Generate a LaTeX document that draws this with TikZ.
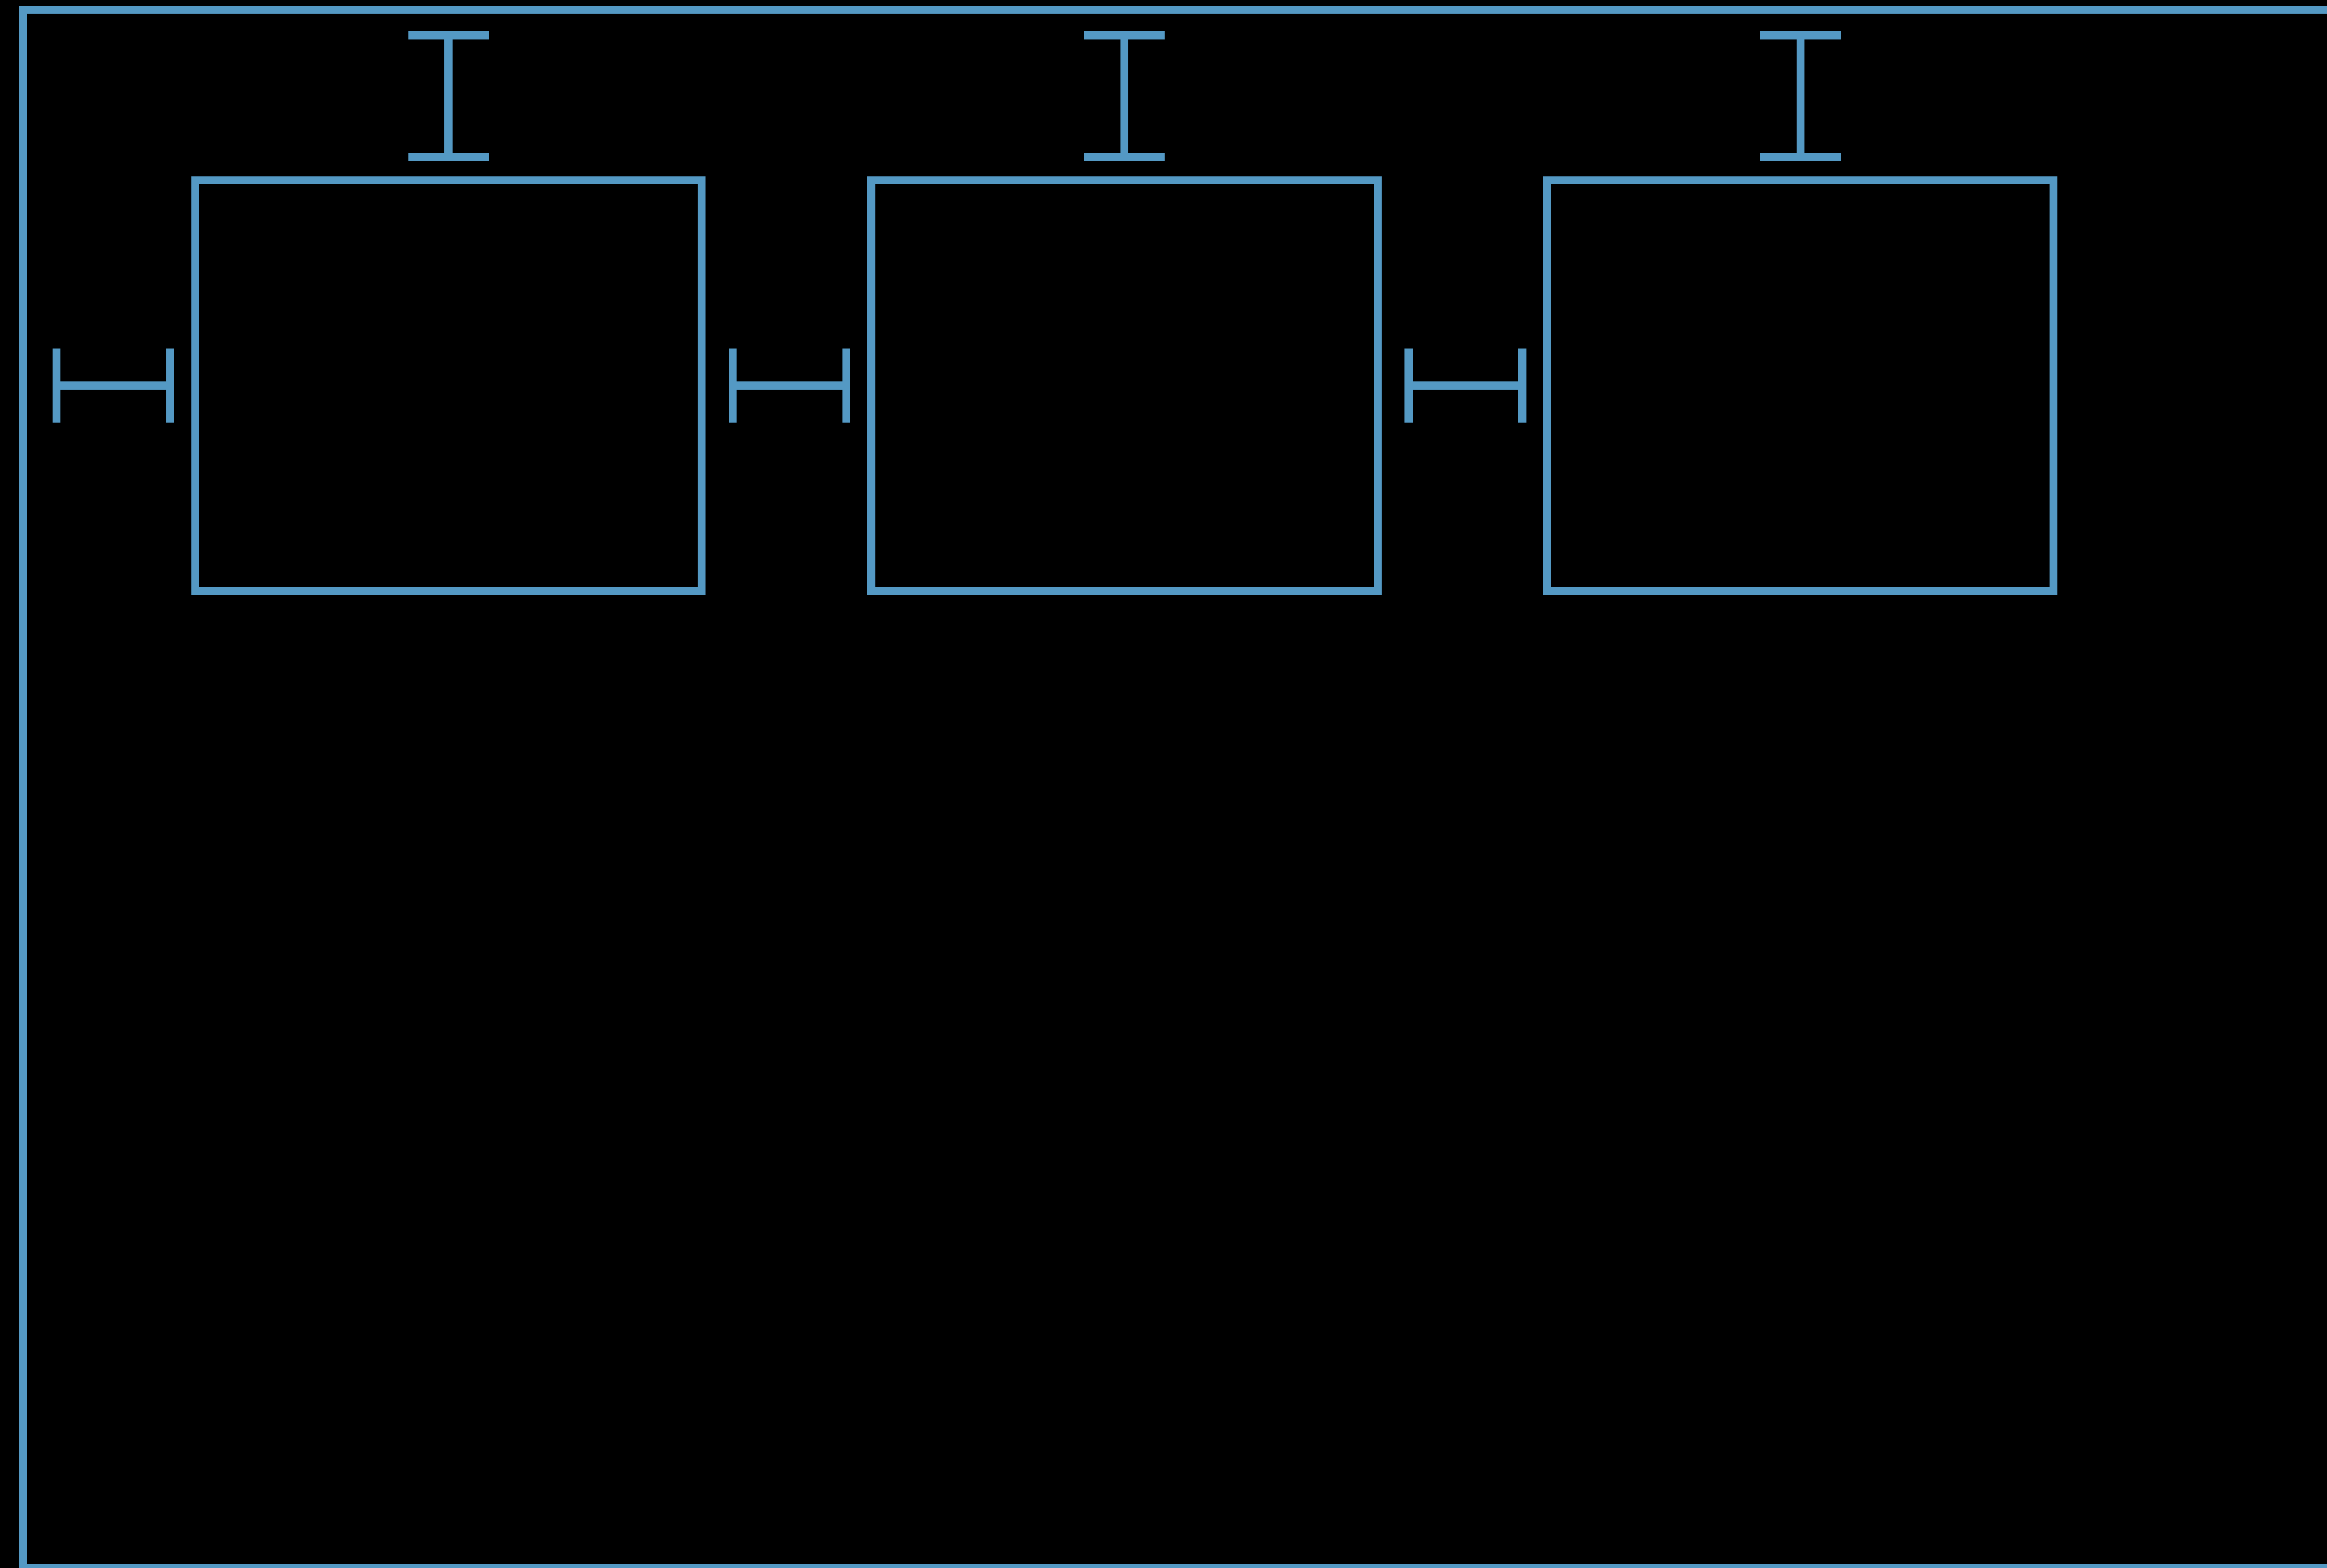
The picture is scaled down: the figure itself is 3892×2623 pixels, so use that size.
\documentclass[tikz,border=0pt]{standalone}
\usetikzlibrary{calc}
\definecolor{frameblue}{RGB}{84,153,196}
\begin{document}
\begin{tikzpicture}[x=0.01cm,y=0.01cm,
  blueline/.style={draw=frameblue,line width=0.133cm},
  panel/.style={blueline,rectangle,inner sep=0pt,outer sep=0pt,minimum width=8.466cm,minimum height=6.867cm}]
\fill[black] (0,0) rectangle (3892,-2623);
\useasboundingbox (0,0) rectangle (3892,-2623);
\begin{scope}
  \clip (0,0) rectangle (3892,-2623);
  \draw[blueline] (38.5,-16.5) rectangle (3930,-2622.7);
\end{scope}
\node[panel] (b1) at (750,-645.1) {};
\node[panel] (b2) at (1880.6,-645.1) {};
\node[panel] (b3) at (3011.2,-645.1) {};
\foreach \b in {b1,b2,b3}{
  % vertical marker above the panel
  \coordinate (\b-ib) at ($(\b.north)+(0,39)$);
  \coordinate (\b-it) at ($(\b.north)+(0,242.7)$);
  \draw[blueline] ($(\b-ib)+(-67.5,0)$) -- ($(\b-ib)+(67.5,0)$);
  \draw[blueline] ($(\b-it)+(-67.5,0)$) -- ($(\b-it)+(67.5,0)$);
  \draw[blueline] (\b-ib) -- (\b-it);
  % horizontal marker left of the panel
  \coordinate (\b-hl) at ($(\b.west)+(-231.7,0)$);
  \coordinate (\b-hr) at ($(\b.west)+(-41.7,0)$);
  \draw[blueline] ($(\b-hl)+(0,61.7)$) -- ($(\b-hl)+(0,-61.7)$);
  \draw[blueline] ($(\b-hr)+(0,61.7)$) -- ($(\b-hr)+(0,-61.7)$);
  \draw[blueline] (\b-hl) -- (\b-hr);
}
\end{tikzpicture}
\end{document}
